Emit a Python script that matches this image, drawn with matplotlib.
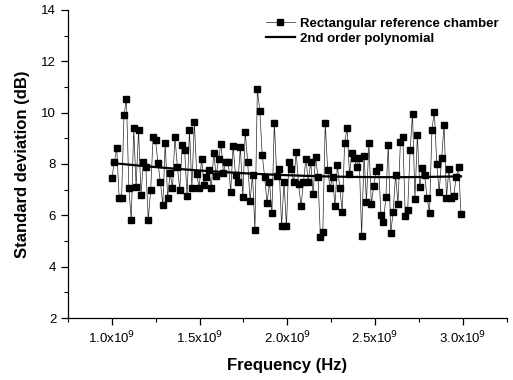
import numpy as np
import matplotlib
matplotlib.use("Agg")
import matplotlib.pyplot as plt
from matplotlib.ticker import MultipleLocator

# standard deviation (dB), in sweep order
std_db = [7.45, 8.08, 8.62, 6.68, 6.68, 9.91, 10.53, 7.07, 5.82, 9.40,
          7.10, 9.33, 6.80, 8.08, 7.90, 5.82, 6.99, 9.05, 8.94, 8.04,
          7.30, 6.40, 8.80, 6.68, 7.65, 7.07, 9.05, 7.90, 7.00, 8.74,
          8.55, 6.75, 9.33, 7.07, 9.64, 7.60, 7.07, 8.20, 7.18, 7.50,
          7.76, 7.07, 8.43, 7.53, 8.20, 8.78, 7.65, 8.08, 8.08, 6.91,
          8.70, 7.57, 7.30, 8.66, 6.71, 9.25, 8.08, 6.56, 7.57, 5.43,
          10.92, 10.07, 8.35, 7.50, 6.48, 7.30, 6.09, 9.60, 7.55, 7.80,
          5.60, 7.30, 5.58, 8.08, 7.80, 7.30, 8.47, 7.22, 6.36, 7.30,
          8.20, 7.30, 8.08, 6.83, 8.27, 7.50, 5.16, 5.35, 9.60, 7.76,
          7.07, 7.50, 6.36, 7.96, 7.07, 6.13, 8.82, 9.40, 7.61, 8.43,
          8.23, 7.88, 8.23, 5.20, 8.31, 6.52, 8.82, 6.44, 7.14, 7.73,
          7.88, 6.01, 5.74, 6.71, 8.74, 5.31, 6.13, 7.57, 6.44, 8.86,
          9.05, 5.98, 6.21, 8.55, 9.95, 6.64, 9.13, 7.10, 7.84, 7.57,
          6.68, 6.09, 9.33, 10.03, 8.00, 6.91, 8.23, 9.52, 6.68, 7.80,
          6.68, 6.76, 7.50, 7.88, 6.05]

f_start = 1.0e9
f_stop = 2.99e9
freq = np.linspace(f_start, f_stop, len(std_db))

xtick_vals = [1.0e9, 1.5e9, 2.0e9, 2.5e9, 3.0e9]
xtick_labels = ["1.0x10$^9$", "1.5x10$^9$", "2.0x10$^9$", "2.5x10$^9$", "3.0x10$^9$"]

# 2nd order polynomial fit of the measured data
coef = np.polyfit(freq / 1e9, std_db, 2)
fit = np.polyval(coef, freq / 1e9)

plt.rcParams["font.family"] = ["Liberation Sans", "DejaVu Sans"]

fig = plt.figure(figsize=(5.13, 3.80), dpi=100)
ax = fig.add_axes([0.1326, 0.163, 0.855, 0.811])

ax.plot(freq, std_db, "-s", color="0.15", lw=0.5, ms=5,
        mfc="black", mec="black", label="Rectangular reference chamber")
ax.plot(freq, fit, "-", color="black", lw=1.6, label="2nd order polynomial")

ax.set_xlim(0.75e9, 3.25e9)
ax.set_ylim(2, 14)
ax.set_xticks(xtick_vals)
ax.set_xticklabels(xtick_labels)
ax.xaxis.set_minor_locator(MultipleLocator(0.25e9))
ax.yaxis.set_major_locator(MultipleLocator(2))
ax.yaxis.set_minor_locator(MultipleLocator(1))
ax.tick_params(which="major", direction="out", length=5, width=0.9, labelsize=9.5)
ax.tick_params(which="minor", direction="out", length=3, width=0.8)

for s in ["top", "right"]:
    ax.spines[s].set_visible(False)
for s in ["left", "bottom"]:
    ax.spines[s].set_linewidth(0.9)

ax.set_xlabel("Frequency (Hz)", fontsize=12, fontweight="bold", labelpad=8)
ax.set_ylabel("Standard deviation (dB)", fontsize=12, fontweight="bold", labelpad=8)

leg = ax.legend(loc="upper right", frameon=False, prop={"weight": "bold", "size": 9.5},
                handlelength=2.2, handletextpad=0.4, labelspacing=0.2,
                borderaxespad=0.2)

fig.savefig("out.png", dpi=100)
